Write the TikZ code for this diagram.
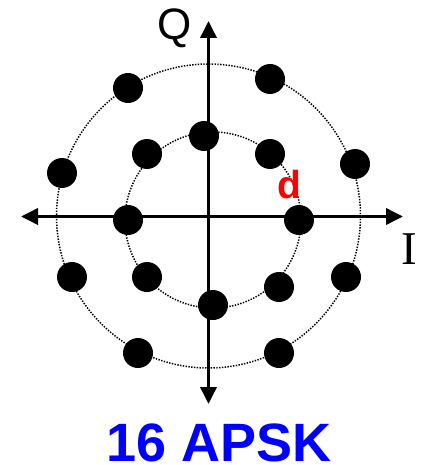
\documentclass[tikz,border=0pt]{standalone}
\usepackage{fontspec}
\newfontfamily\arialfont{Liberation Sans}
\newfontfamily\timesfont{Liberation Serif}
\usetikzlibrary{arrows.meta}
\tikzset{axis/.style={line width=3.6pt, {Triangle[length=17pt,width=16pt]}-{Triangle[length=17pt,width=16pt]}}}
\tikzset{ring/.style={line width=1.5pt, dash pattern=on 1.4pt off 1.4pt}}
\tikzset{sym/.style={circle, fill=black, minimum size=30pt, inner sep=0pt}}
\newcommand{\txt}[2]{\fontsize{#1}{#1}\selectfont #2}

\begin{document}
\begin{tikzpicture}[x=1pt,y=-1pt]
\useasboundingbox (0,0) rectangle (420,465);
\coordinate (west) at (21,216.5);
\coordinate (east) at (403,216.5);
\coordinate (north) at (208.5,21);
\coordinate (south) at (208.5,404);
\draw[ring] (208.5,216) circle[radius=152];
\draw[ring] (213,220) circle[radius=88];
% outer ring and inner ring
\foreach \n/\p in {o1/{128,88}, o2/{270,79}, o3/{355,164}, o4/{346,277}, o5/{279,353}, o6/{138,353}, o7/{72,277}, o8/{62,173}}
  \node[sym] (\n) at (\p) {};
\foreach \n/\p in {i1/{204,136}, i2/{270,154}, i3/{299,220}, i4/{279,287}, i5/{213,305}, i6/{147,277}, i7/{128,220}, i8/{147,154}}
  \node[sym] (\n) at (\p) {};
\draw[axis] (west) -- (east);
\draw[axis] (north) -- (south);
\node[anchor=base, inner sep=0pt] (lblQ) at (175,40) {\arialfont\txt{44}{Q}};
\node[anchor=base, inner sep=0pt] (lblI) at (409.5,264) {\timesfont\txt{47}{I}};
\node[anchor=base, inner sep=0pt, text=red] (lblD) at (289.5,198) {\arialfont\bfseries\txt{39}{d}};
\node[anchor=base, inner sep=0pt, text=blue] (title) at (219,461.5) {\arialfont\bfseries\txt{54}{16 APSK}};
\end{tikzpicture}
\end{document}
